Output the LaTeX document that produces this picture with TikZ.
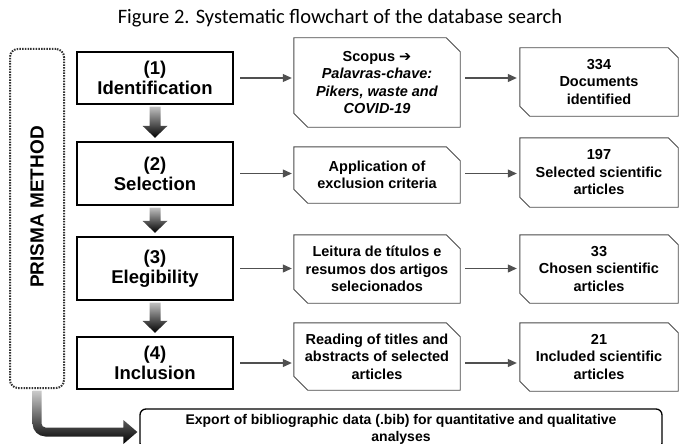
\documentclass[tikz,border=0pt]{standalone}
\usepackage{fontspec}
\setmainfont{Liberation Sans}
\newfontfamily\calibri{Carlito}
\newfontfamily\dejavu{DejaVu Sans}
\usetikzlibrary{calc,arrows.meta}
\definecolor{boxgray}{HTML}{4A4A4A}
\definecolor{arrgray}{HTML}{505050}
\newcommand\snipbox[2]{\draw[snip] (#1.north west) -- ($(#1.north east)+(-#2,0)$) -- ($(#1.north east)+(0,#2)$) -- (#1.south east) -- ($(#1.south west)+(#2,0)$) -- ($(#1.south west)+(0,-#2)$) -- cycle;}
\newcommand\fatarrow[2]{\shade[top color=black!25, middle color=black!80, bottom color=black] ($(#1.south)+(-5.5,1.5)$) -- ($(#2.north)+(-5.5,-15)$) -- ($(#2.north)+(-12.5,-15)$) -- ($(#2.north)+(0,-3)$) -- ($(#2.north)+(12.5,-15)$) -- ($(#2.north)+(5.5,-15)$) -- ($(#1.south)+(5.5,1.5)$) -- cycle;}
\begin{document}
\begin{tikzpicture}[x=1pt,y=-1pt,
  stage/.style={draw=black, line width=2.4pt, minimum width=156pt, align=center, inner sep=0pt,
    font=\fontsize{18.5}{20}\selectfont\bfseries},
  midbox/.style={minimum width=166pt, align=center, inner sep=0pt,
    font=\fontsize{14.5}{17.5}\selectfont\bfseries},
  resbox/.style={minimum width=158pt, align=center, inner sep=0pt,
    font=\fontsize{14.5}{17.5}\selectfont\bfseries},
  snip/.style={draw=boxgray, line width=0.9pt},
  flow/.style={draw=arrgray, line width=1.1pt, -{Triangle[length=9pt,width=8pt]}},
  prismabox/.style={draw=black!80, line width=2pt, dash pattern=on 1.5pt off 1.2pt, rounded corners=8pt,
    minimum width=54pt, minimum height=339pt, inner sep=0pt},
  exportbox/.style={draw=black, line width=1.3pt, rounded corners=6pt, minimum width=522pt, minimum height=40pt,
    align=center, inner sep=0pt, font=\fontsize{14}{17}\selectfont\bfseries},
]
\useasboundingbox (0,0) rectangle (680,444);

\node[font=\calibri\fontsize{20.5}{22}\selectfont] (title) at (340,18) {Figure 2. Systematic flowchart of the database search};

\node[prismabox] (prisma) at (37,218.5) {};
\node[rotate=90, font=\fontsize{19}{19}\selectfont\bfseries] (ptxt) at (37,207) {PRISMA METHOD};

\node[stage, minimum height=52pt] (l1) at (155,78) {(1)\\Identification};
\node[stage, minimum height=63pt] (l2) at (155,173.5) {(2)\\Selection};
\node[stage, minimum height=63pt] (l3) at (155,268.5) {(3)\\Elegibility};
\node[stage, minimum height=52pt] (l4) at (155,363) {(4)\\Inclusion};

\node[midbox, minimum height=89pt] (m1) at (377,82.5) {Scopus {\dejavu\bfseries ➔}\\\textit{Palavras-chave:}\\\textit{Pikers, waste and}\\\textit{COVID-19}};
\node[midbox, minimum height=56pt] (m2) at (377,175) {Application of\\exclusion criteria};
\node[midbox, minimum height=68pt] (m3) at (377,269) {Leitura de títulos e\\resumos dos artigos\\selecionados};
\node[midbox, minimum height=67pt] (m4) at (377,356.5) {Reading of titles and\\abstracts of selected\\articles};

\node[resbox, minimum height=68pt] (r1) at (599,82) {334\\Documents\\identified};
\node[resbox, minimum height=69pt] (r2) at (599,172.5) {197\\Selected scientific\\articles};
\node[resbox, minimum height=68pt] (r3) at (599,269) {33\\Chosen scientific\\articles};
\node[resbox, minimum height=68pt] (r4) at (599,357) {21\\Included scientific\\articles};

\node[exportbox] (export) at (401,429) {Export of bibliographic data (.bib) for quantitative and qualitative\\analyses};

\foreach \n in {m1,m2,m3,m4} {\snipbox{\n}{14}}
\foreach \n in {r1,r2,r3,r4} {\snipbox{\n}{10}}

\foreach \a/\b/\c in {l1/m1/r1, l2/m2/r2, l3/m3/r3, l4/m4/r4} {
  \draw[flow] ($(\a.east)+(6,0)$) -- ($(\a.east -| \b.west)+(-2,0)$);
  \draw[flow] ($(\a.east -| \b.east)+(5,0)$) -- ($(\a.east -| \c.west)+(-3,0)$);
}

\fatarrow{l1}{l2}
\fatarrow{l2}{l3}
\fatarrow{l3}{l4}

\coordinate (tip) at ($(export.west)+(-2,3)$);
\coordinate (bend) at (prisma.south |- tip);
\shade[top color=black!20, middle color=black!85, bottom color=black]
  ($(prisma.south)+(-4.5,1.5)$) [rounded corners=13pt] -- ($(bend)+(-4.5,4.5)$) [sharp corners]
  -- ($(tip)+(-14,4.5)$) -- ($(tip)+(-14,12)$) -- (tip) -- ($(tip)+(-14,-12)$) -- ($(tip)+(-14,-4.5)$)
  [rounded corners=4pt] -- ($(bend)+(4.5,-4.5)$) [sharp corners] -- ($(prisma.south)+(4.5,1.5)$) -- cycle;
\end{tikzpicture}
\end{document}
